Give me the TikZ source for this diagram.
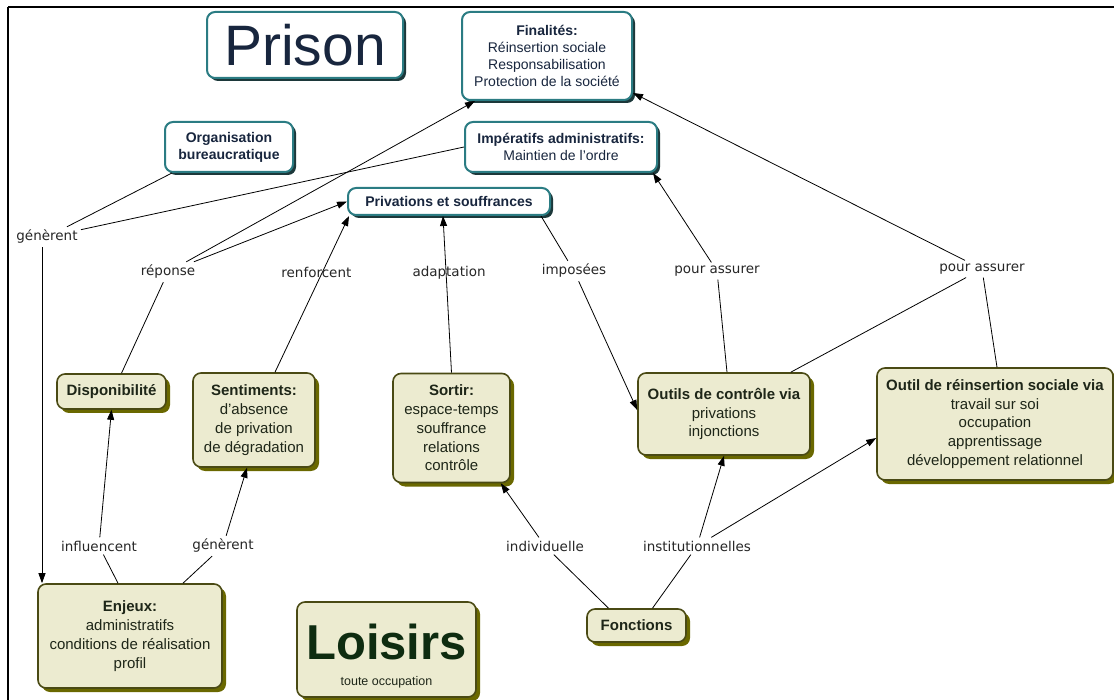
\documentclass[tikz,border=0pt]{standalone}
\usepackage{fontspec}
\setmainfont{Liberation Sans}
\newfontfamily\linkfont{DejaVu Sans}
\usetikzlibrary{shadows,arrows.meta}
\definecolor{mapteal}{RGB}{43,124,131}
\definecolor{mapshade}{RGB}{28,56,58}
\definecolor{mapnavy}{RGB}{24,38,62}
\definecolor{mapolive}{RGB}{74,74,20}
\definecolor{mapcream}{RGB}{236,235,208}
\definecolor{mapmoss}{RGB}{106,104,0}
\definecolor{mapink}{RGB}{30,38,24}
\definecolor{mapgreen}{RGB}{14,44,16}
\tikzset{
  tealbox/.style={draw=mapteal, line width=2pt, fill=white, rounded corners=8pt,
    text=mapnavy, align=center, inner sep=0pt, font=\fontsize{14}{17}\selectfont,
    drop shadow={shadow xshift=3pt, shadow yshift=-3pt, fill=mapshade, opacity=1}},
  olivebox/.style={draw=mapolive, line width=1.6pt, fill=mapcream, rounded corners=8pt,
    text=mapink, align=center, inner sep=0pt, font=\fontsize{15}{18.8}\selectfont,
    drop shadow={shadow xshift=4pt, shadow yshift=-4pt, fill=mapmoss, opacity=1}},
  linkword/.style={font=\linkfont\fontsize{13.5}{15}\selectfont, text=black!85, inner sep=3pt},
}

\begin{document}
\begin{tikzpicture}[x=1pt, y=-1pt, >={Triangle[length=10pt,width=7pt]}, line width=0.8pt]
  \useasboundingbox (0,0) rectangle (1114,700);

  % frame
  \draw [line width=2.2pt] (8,7) -- (1114,7);
  \draw [line width=2pt] (8,7) -- (8,700);

  % teal concepts
  \node [tealbox, minimum width=196, minimum height=66] (prison) at (305,45)
    {\fontsize{57}{58}\selectfont Prison};
  \node [tealbox, minimum width=170, minimum height=88] (finalites) at (547,56)
    {\textbf{Finalités:}\\Réinsertion sociale\\Responsabilisation\\Protection de la société};
  \node [tealbox, minimum width=128, minimum height=50] (organisation) at (229,147)
    {\textbf{Organisation}\\\textbf{bureaucratique}};
  \node [tealbox, minimum width=192, minimum height=50] (imperatifs) at (561,147)
    {\textbf{Impératifs administratifs:}\\Maintien de l'ordre};
  \node [tealbox, minimum width=202, minimum height=27] (privations) at (449,201.5)
    {\textbf{Privations et souffrances}};

  % olive concepts
  \node [olivebox, minimum width=109, minimum height=35] (disponibilite) at (111.5,391.5)
    {\textbf{Disponibilité}};
  \node [olivebox, minimum width=122, minimum height=94] (sentiments) at (254,420)
    {\textbf{Sentiments:}\\d'absence\\de privation\\de dégradation};
  \node [olivebox, minimum width=117, minimum height=109] (sortir) at (451.5,428)
    {\textbf{Sortir:}\\espace-temps\\souffrance\\relations\\contrôle};
  \node [olivebox, minimum width=172, minimum height=82] (outils) at (724,414)
    {\textbf{Outils de contrôle via}\\privations\\injonctions};
  \node [olivebox, minimum width=236, minimum height=112] (reinsertion) at (995,424)
    {\textbf{Outil de réinsertion sociale via}\\travail sur soi\\occupation\\apprentissage\\développement relationnel};
  \node [olivebox, minimum width=184, minimum height=104] (enjeux) at (130,636)
    {\textbf{Enjeux:}\\administratifs\\conditions de réalisation\\profil};
  \node [olivebox, minimum width=179, minimum height=95] (loisirs) at (386.5,649.5) {};
  \node [text=mapgreen, font=\fontsize{49}{50}\selectfont\bfseries] (loisirstitle) at (386.5,642) {Loisirs};
  \node [text=mapink, font=\fontsize{12.5}{14}\selectfont] (loisirssub) at (386.5,682) {toute occupation};
  \node [olivebox, minimum width=99, minimum height=33] (fonctions) at (636.5,625.5)
    {\textbf{Fonctions}};

  % linking words
  \node [linkword] (gen1) at (47,237) {génèrent};
  \node [linkword] (reponse) at (168,272) {réponse};
  \node [linkword] (imposees) at (574,271) {imposées};
  \node [linkword] (assurer1) at (717,271) {pour assurer};
  \node [linkword] (assurer2) at (982,269) {pour assurer};
  \node [linkword] (influ) at (99,546) {influencent};
  \node [linkword] (gen2) at (223,546) {génèrent};
  \node [linkword] (indiv) at (545,546) {individuelle};
  \node [linkword] (instit) at (697,546) {institutionnelles};

  % connectors
  \draw ([xshift=8pt]organisation.south west) -- (gen1);
  \draw (imperatifs.west) -- (gen1);
  \draw [->] ([xshift=-5pt]gen1.south) -- ([xshift=-5pt]gen1.south |- enjeux.north);

  \draw [->] (reponse) -- ([xshift=14pt]finalites.south west);
  \draw [->] (reponse) -- (privations.west);
  \draw ([xshift=10pt]disponibilite.north) -- (reponse);

  \draw [->] ([xshift=21pt]sentiments.north) -- node [linkword, pos=0.64, xshift=-6pt] (renforcent) {renforcent} ([xshift=2pt]privations.south west);
  \draw [->] (sortir.north) -- node [linkword, pos=0.64, xshift=3pt] (adaptation) {adaptation} ([xshift=-6pt]privations.south);

  \draw ([xshift=-10pt]privations.south east) -- (imposees);
  \draw [->] (imposees) -- ([yshift=4pt]outils.west);

  \draw ([xshift=3pt]outils.north) -- (assurer1);
  \draw [->] (assurer1) -- ([xshift=-5pt]imperatifs.south east);

  \draw ([xshift=-20pt]outils.north east) -- (assurer2);
  \draw ([xshift=2pt]reinsertion.north) -- (assurer2);
  \draw [->] (assurer2) -- ([yshift=8pt]finalites.south east);

  \draw ([xshift=-12pt]enjeux.north) -- (influ);
  \draw [->] (influ) -- (disponibilite.south);
  \draw ([xshift=53pt]enjeux.north) -- (gen2);
  \draw [->] (gen2) -- ([xshift=-7pt]sentiments.south);

  \draw ([xshift=-28pt]fonctions.north) -- (indiv);
  \draw [->] (indiv) -- ([xshift=-10pt]sortir.south east);
  \draw ([xshift=16pt]fonctions.north) -- (instit);
  \draw [->] (instit) -- (outils.south);
  \draw [->] (instit) -- ([yshift=-14pt]reinsertion.west);

\end{tikzpicture}
\end{document}
